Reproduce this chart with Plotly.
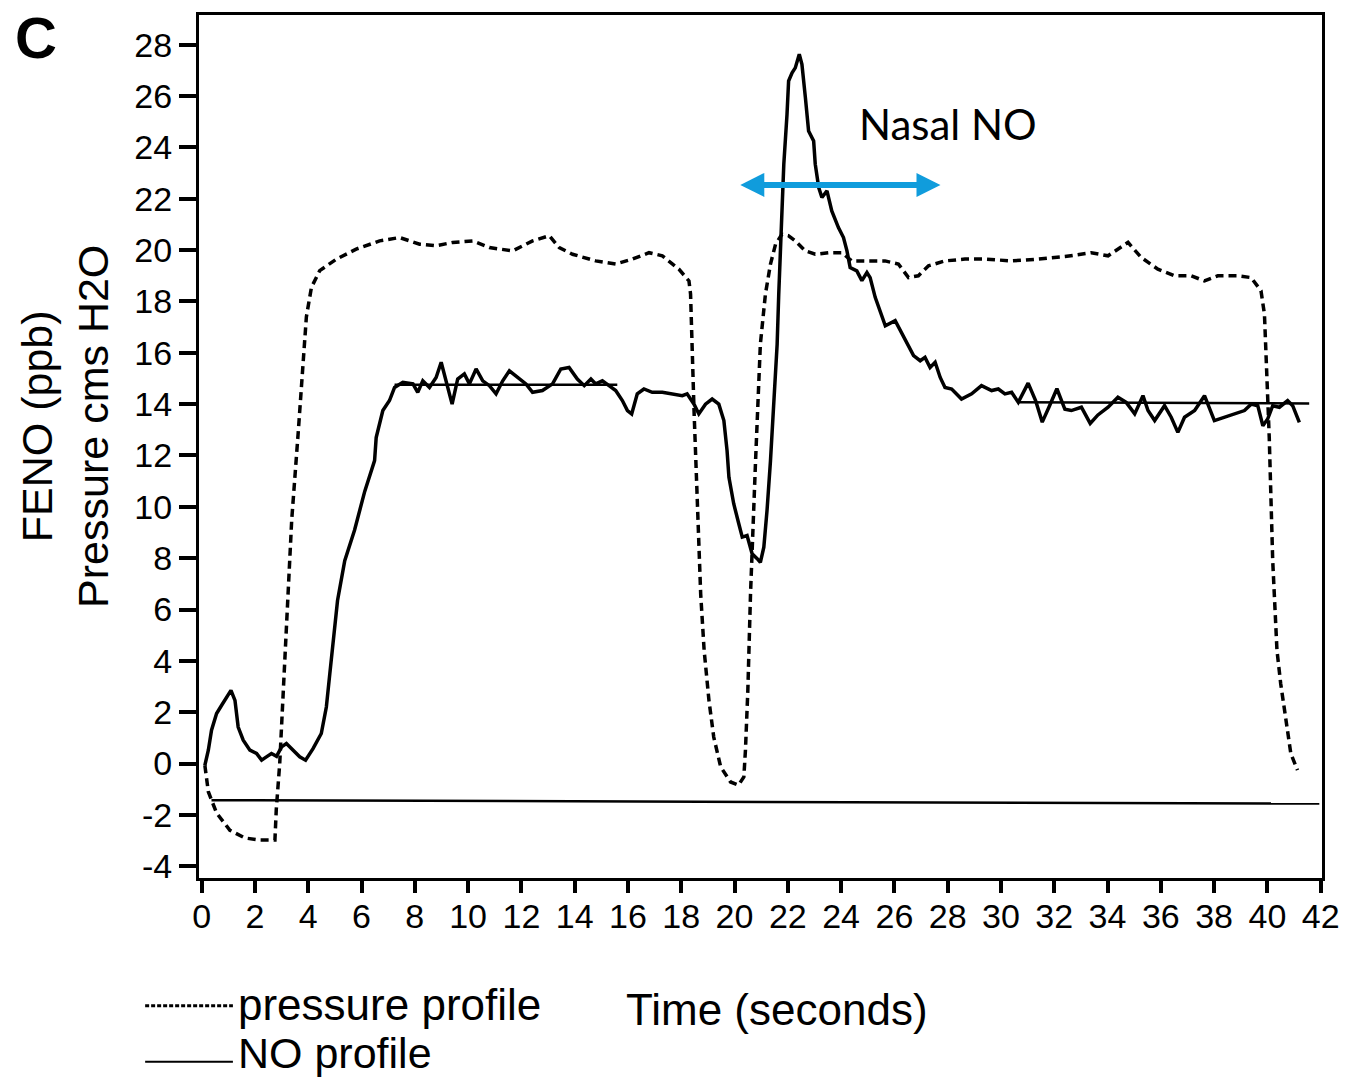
import plotly.graph_objects as go

# ---------------- data ----------------
press_t = [0.12, 0.25, 0.56, 1.06, 1.62, 2.18, 2.75, 2.8, 2.93, 3.12, 3.38, 3.62, 3.74, 3.87, 3.93,
           4.12, 4.43, 5.06, 5.8, 6.68, 7.43, 8.18, 8.8, 9.42, 10.17, 10.8, 11.67, 12.42, 13.05,
           13.42, 13.92, 14.79, 15.54, 16.17, 16.79, 17.29, 17.91, 18.29, 18.35, 18.48, 18.6,
           18.73, 18.86, 19.04, 19.22, 19.48, 19.85, 20.15, 20.35, 20.41, 20.5, 20.6, 20.79,
           20.97, 21.16, 21.35, 21.54, 21.78, 22.03, 22.28, 22.66, 23.03, 23.53, 24.03, 24.4,
           25.03, 25.65, 26.15, 26.53, 26.9, 27.28, 27.9, 28.65, 29.4, 30.4, 31.4, 32.4, 33.39,
           34.02, 34.77, 35.27, 35.89, 36.52, 37.14, 37.64, 38.14, 38.89, 39.39, 39.76, 39.89,
           39.95, 40.01, 40.07, 40.2, 40.36, 40.5, 40.62, 40.75, 40.88, 41.13]
press_v = [-0.07, -1.1, -1.93, -2.6, -2.9, -2.98, -2.98, -1.8, 0.0, 4.0, 9.5, 12.84, 14.65, 16.21, 17.4,
           18.55, 19.2, 19.65, 20.04, 20.36, 20.49, 20.23, 20.17, 20.3, 20.36, 20.1, 19.97, 20.36, 20.56,
           20.1, 19.84, 19.58, 19.46, 19.65, 19.9, 19.78, 19.26, 18.8, 18.29, 13.75, 10.5,
           6.6, 4.4, 2.46, 1.03, -0.13, -0.72, -0.84, -0.52, 0.52, 2.85, 6.6, 11.8,
           16.34, 18.29, 19.46, 20.23, 20.62, 20.56, 20.36, 19.97, 19.84, 19.9, 19.9, 19.58,
           19.58, 19.58, 19.46, 18.93, 19.0, 19.39, 19.58, 19.65, 19.65, 19.58, 19.65, 19.75, 19.9,
           19.78, 20.3, 19.71, 19.26, 19.0, 19.0, 18.8, 19.0, 19.0, 18.93, 18.42, 17.5,
           15.95, 14.65, 12.7, 7.9, 4.41, 3.11, 2.2, 1.3, 0.39, -0.26]

no_t = [0.12, 0.25, 0.37, 0.56, 0.75, 0.94, 1.1, 1.25, 1.37, 1.56, 1.81, 2.06, 2.25, 2.43, 2.62, 2.81,
        3.0, 3.18, 3.43, 3.68, 3.9, 4.18, 4.49, 4.68, 4.81, 4.93, 5.1, 5.37, 5.74, 6.12, 6.49, 6.55,
        6.8, 7.05, 7.24, 7.55, 7.93, 8.11, 8.3, 8.55, 8.8, 8.99, 9.18, 9.4, 9.61, 9.86, 10.05, 10.3,
        10.55, 10.8, 11.05, 11.3, 11.55, 11.86, 12.17, 12.42, 12.79, 13.17, 13.48, 13.79, 14.1,
        14.36, 14.61, 14.79, 15.04, 15.29, 15.54, 15.79, 15.98, 16.14, 16.35, 16.6, 16.91, 17.29,
        17.66, 18.04, 18.22, 18.48, 18.66, 18.91, 19.16, 19.41, 19.6, 19.72, 19.79, 19.97, 20.16,
        20.29, 20.47, 20.66, 20.85, 20.97, 21.1, 21.22, 21.35, 21.47, 21.6, 21.66, 21.72, 21.85,
        21.97, 22.03, 22.16, 22.28, 22.43, 22.53, 22.66, 22.78, 22.97, 23.03, 23.16, 23.28, 23.47,
        23.65, 23.9, 24.09, 24.22, 24.34, 24.59, 24.78, 24.97, 25.09, 25.28, 25.47, 25.66, 26.03,
        26.4, 26.72, 26.97, 27.15, 27.34, 27.53, 27.72, 27.9, 28.15, 28.52, 28.9, 29.27, 29.65,
        29.9, 30.15, 30.4, 30.65, 31.02, 31.3, 31.55, 31.8, 32.1, 32.4, 32.64, 33.02, 33.35, 33.64,
        34.02, 34.39, 34.7, 35.02, 35.33, 35.52, 35.77, 36.14, 36.39, 36.64, 36.89, 37.27, 37.64,
        38.01, 38.39, 38.76, 39.14, 39.39, 39.64, 39.83, 40.01, 40.2, 40.45, 40.76, 40.95, 41.2]
no_v = [-0.07, 0.52, 1.3, 1.95, 2.27, 2.59, 2.85, 2.46, 1.42, 0.91, 0.52, 0.39, 0.13, 0.26, 0.39, 0.28,
        0.65, 0.78, 0.52, 0.26, 0.13, 0.58, 1.17, 2.2, 3.5, 4.8, 6.35, 7.9, 9.1, 10.6, 11.8, 12.7,
        13.75, 14.14, 14.65, 14.85, 14.79, 14.46, 14.91, 14.65, 15.04, 15.63, 14.91, 14.0, 14.98, 15.18, 14.79, 15.37,
        14.91, 14.72, 14.4, 14.91, 15.3, 15.04, 14.79, 14.46, 14.53, 14.79, 15.37, 15.43, 14.98,
        14.72, 14.98, 14.79, 14.91, 14.72, 14.53, 14.14, 13.75, 13.62, 14.4, 14.59, 14.46, 14.46,
        14.4, 14.33, 14.4, 14.0, 13.62, 14.0, 14.2, 14.0, 13.36, 12.19, 11.15, 10.12, 9.34,
        8.82, 8.88, 8.17, 7.98, 7.84, 8.43, 9.86, 11.8, 13.75, 16.34, 18.29, 19.9, 23.35,
        25.29, 26.59, 26.91, 27.1, 27.63, 27.24, 25.94, 24.64, 24.25, 23.35, 22.44, 22.05, 22.31,
        21.53, 20.88, 20.49, 19.97, 19.32, 19.19, 18.81, 19.13, 18.93, 18.16, 17.64, 17.05, 17.25,
        16.54, 15.89, 15.69, 15.82, 15.43, 15.63, 15.04, 14.65, 14.59, 14.2, 14.4, 14.72, 14.53,
        14.59, 14.4, 14.46, 14.07, 14.82, 14.14, 13.3, 13.88, 14.6, 13.8, 13.75, 13.88, 13.25, 13.58,
        13.88, 14.27, 14.07, 13.62, 14.33, 13.75, 13.36, 13.94, 13.49, 12.9, 13.49, 13.75, 14.33,
        13.36, 13.49, 13.62, 13.75, 14.0, 13.94, 13.16, 13.42, 13.94, 13.88, 14.14, 13.94, 13.29]

mean1_t = [7.24, 15.6]
mean1_v = [14.76, 14.76]
mean2_t = [30.65, 41.57]
mean2_v = [14.07, 14.03]
base_t = [0.37, 41.95]
base_v = [-1.43, -1.56]

y_ticks = [-4, -2, 0, 2, 4, 6, 8, 10, 12, 14, 16, 18, 20, 22, 24, 26, 28]
y_ticktext = ["-4", "-2", "0", "2", "4", "6", "8", "10", "12", "14", "16", "18", "20", "22", "24", "26", "28"]
x_ticks = list(range(0, 43, 2))

arrow_t = [20.16, 27.73]
arrow_v = 22.54

# ---------------- layout geometry ----------------
W, H = 1352, 1080
L, R, T, B = 199, 27, 14, 202
PW, PH = W - L - R, H - T - B


def px(x):
    return (x - L) / PW


def py(y):
    return (H - B - y) / PH


FONT = "Liberation Sans, Arial, sans-serif"

fig = go.Figure()
fig.add_trace(go.Scatter(x=base_t, y=base_v, mode="lines",
                         line=dict(color="black", width=2.5), hoverinfo="skip"))
fig.add_trace(go.Scatter(x=press_t, y=press_v, mode="lines",
                         line=dict(color="black", width=3.5, dash="8px,5px"), name="pressure profile"))
fig.add_trace(go.Scatter(x=no_t, y=no_v, mode="lines",
                         line=dict(color="black", width=3.5), name="NO profile"))
fig.add_trace(go.Scatter(x=mean1_t, y=mean1_v, mode="lines",
                         line=dict(color="black", width=2.5), hoverinfo="skip"))
fig.add_trace(go.Scatter(x=mean2_t, y=mean2_v, mode="lines",
                         line=dict(color="black", width=2.5), hoverinfo="skip"))

annotations = [
    # panel label
    dict(text="<b>C</b>", x=px(36), y=py(37), xref="paper", yref="paper",
         showarrow=False, font=dict(family=FONT, size=58, color="black"),
         xanchor="center", yanchor="middle"),
    # y title
    dict(text="FENO (ppb)<br>Pressure cms H2O", x=px(64), y=py(426), xref="paper", yref="paper",
         showarrow=False, textangle=-90, font=dict(family=FONT, size=43, color="black"),
         xanchor="center", yanchor="middle"),
    # x title
    dict(text="Time (seconds)", x=px(779), y=py(1010), xref="paper", yref="paper",
         showarrow=False, font=dict(family=FONT, size=44, color="black"),
         xanchor="center", yanchor="middle"),
    # legend texts
    dict(text="pressure profile", x=px(236), y=py(1005), xref="paper", yref="paper",
         showarrow=False, font=dict(family=FONT, size=44, color="black"),
         xanchor="left", yanchor="middle"),
    dict(text="NO profile", x=px(236), y=py(1053), xref="paper", yref="paper",
         showarrow=False, font=dict(family=FONT, size=43, color="black"),
         xanchor="left", yanchor="middle"),
    # Nasal NO
    dict(text="Nasal NO", x=28.03, y=24.91, xref="x", yref="y",
         showarrow=False, font=dict(family="Lato, Open Sans, sans-serif", size=42, color="black"),
         xanchor="center", yanchor="middle"),
    # double arrow
    dict(text="", x=arrow_t[1], y=arrow_v, ax=arrow_t[0], ay=arrow_v,
         xref="x", yref="y", axref="x", ayref="y", showarrow=True,
         arrowhead=2, startarrowhead=2, arrowside="end+start",
         arrowwidth=6, arrowsize=0.8, startarrowsize=0.8, arrowcolor="#109CDC"),
]

shapes = [
    dict(type="line", xref="paper", yref="paper", x0=px(145), x1=px(233), y0=py(1006), y1=py(1006),
         line=dict(color="black", width=3, dash="4px,2px")),
    dict(type="line", xref="paper", yref="paper", x0=px(145), x1=px(233), y0=py(1062), y1=py(1062),
         line=dict(color="black", width=2)),
]

fig.update_layout(
    width=W, height=H,
    margin=dict(l=L, r=R, t=T, b=B, pad=0),
    paper_bgcolor="white", plot_bgcolor="white",
    showlegend=False,
    annotations=annotations, shapes=shapes,
    font=dict(family=FONT, color="black"),
    xaxis=dict(range=[-0.1, 42.05], tickvals=x_ticks, ticks="outside", ticklen=12, tickwidth=3.5,
               tickcolor="black", showline=True, linecolor="black", linewidth=3, mirror=True,
               showgrid=False, zeroline=False, ticklabelstandoff=-6,
               tickfont=dict(family=FONT, size=34, color="black")),
    yaxis=dict(range=[-4.46, 29.16], tickvals=y_ticks, ticktext=y_ticktext, ticks="outside",
               ticklen=17, tickwidth=3.5, tickcolor="black", showline=True, linecolor="black",
               linewidth=3, mirror=True, showgrid=False, zeroline=False,
               tickfont=dict(family=FONT, size=34, color="black")),
)

fig.write_html("out.html")
